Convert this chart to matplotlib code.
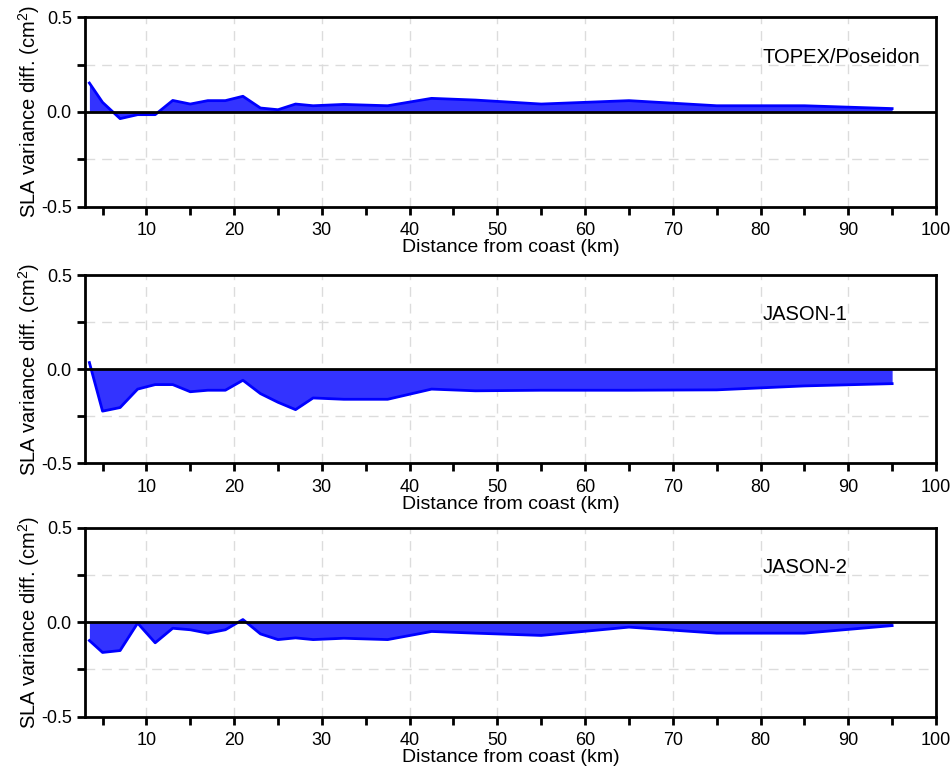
import matplotlib.pyplot as plt
from matplotlib.ticker import MultipleLocator

plt.rcParams['font.family'] = ['Liberation Sans', 'DejaVu Sans']
plt.rcParams['mathtext.fontset'] = 'custom'
plt.rcParams['mathtext.rm'] = 'Liberation Sans'

# distance from coast (km)
dist = [3.5, 5, 7, 9, 11, 13, 15, 17, 19, 21, 23, 25, 27, 29,
        32.5, 37.5, 42.5, 47.5, 55, 65, 75, 85, 95]

topex = [0.153, 0.051, -0.035, -0.014, -0.014, 0.061, 0.042, 0.06, 0.06, 0.083,
         0.021, 0.012, 0.042, 0.033, 0.04, 0.033, 0.072, 0.063, 0.042, 0.06,
         0.033, 0.033, 0.018]
jason1 = [0.035, -0.223, -0.204, -0.106, -0.082, -0.082, -0.12, -0.112, -0.112, -0.059,
          -0.13, -0.176, -0.215, -0.153, -0.16, -0.16, -0.106, -0.115, -0.112, -0.112,
          -0.11, -0.089, -0.077]
jason2 = [-0.097, -0.16, -0.15, -0.005, -0.109, -0.032, -0.04, -0.058, -0.04, 0.014,
          -0.062, -0.092, -0.083, -0.092, -0.085, -0.092, -0.049, -0.058, -0.07, -0.026,
          -0.058, -0.058, -0.018]

names = ['TOPEX/Poseidon', 'JASON-1', 'JASON-2']
series = [topex, jason1, jason2]

W, H = 952, 773
fig = plt.figure(figsize=(W / 100, H / 100), dpi=100)

boxes = [(17.3, 206.7), (275, 463.3), (527.7, 716.7)]
left, right = 85, 936

for (top, bot), name, vals in zip(boxes, names, series):
    ax = fig.add_axes([left / W, 1 - bot / H, (right - left) / W, (bot - top) / H])
    ax.fill_between(dist, vals, 0, color='#3333ff', lw=0, zorder=2)
    ax.plot(dist, vals, color='#0000ff', lw=2, zorder=3)
    ax.axhline(0, color='black', lw=2, zorder=4)

    ax.set_xlim(3, 100)
    ax.set_ylim(-0.5, 0.5)
    ax.xaxis.set_major_locator(MultipleLocator(10))
    ax.xaxis.set_minor_locator(MultipleLocator(5))
    ax.yaxis.set_minor_locator(MultipleLocator(0.25))
    ax.set_yticks([-0.5, 0.0, 0.5])
    ax.set_yticklabels(['-0.5', '0.0', '0.5'])

    ax.grid(True, which='major', axis='x', ls=(0, (7, 5)), color='#dcdcdc', lw=1)
    ax.grid(True, which='minor', axis='y', ls=(0, (7, 5)), color='#dcdcdc', lw=1)
    ax.set_axisbelow(True)

    ax.tick_params(which='both', direction='out', width=2, length=6,
                   labelsize=13, colors='black')
    ax.tick_params(axis='x', which='both', pad=5)
    for s in ax.spines.values():
        s.set_linewidth(2)

    ax.set_xlabel('Distance from coast (km)', fontsize=14, labelpad=0)
    ax.set_ylabel('SLA variance diff. (cm$^{\\mathrm{2}}$)', fontsize=14.5, labelpad=-1)
    ax.text(0.796, 0.79, name, transform=ax.transAxes, fontsize=14.5,
            ha='left', va='center')

fig.savefig('out.png', dpi=100)
